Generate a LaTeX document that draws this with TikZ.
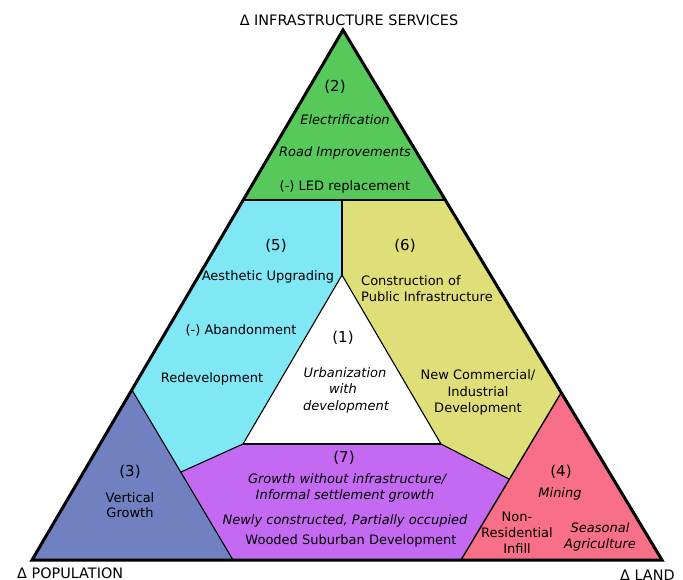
\documentclass[tikz,border=0pt]{standalone}
\usepackage{fontspec}
\setmainfont{DejaVu Sans}
\definecolor{cgreen}{HTML}{56C95A}
\definecolor{ccyan}{HTML}{80E7F5}
\definecolor{cyellow}{HTML}{DFDF7A}
\definecolor{cblue}{HTML}{7080C0}
\definecolor{cpurple}{HTML}{C46AF2}
\definecolor{cpink}{HTML}{F77088}
\begin{document}
\begin{tikzpicture}[x=1pt,y=-1pt,
  lbl/.style={font=\fontsize{13}{16}\selectfont, inner sep=0pt, anchor=base},
  itl/.style={font=\fontsize{13}{16}\selectfont\itshape, inner sep=0pt, anchor=base},
  num/.style={font=\fontsize{15}{18}\selectfont, inner sep=0pt, anchor=base},
  axis/.style={font=\fontsize{14.4}{17}\selectfont, inner sep=0pt, anchor=base},
  inner/.style={line width=1.1pt, line join=round},
  outer/.style={line width=3pt, line join=miter}]
\useasboundingbox (0,0) rectangle (683,579);
\coordinate (A) at (343,30);
\coordinate (L) at (32,560);
\coordinate (R) at (662,560);
\coordinate (GL) at (243,200);
\coordinate (GM) at (342,200);
\coordinate (GR) at (445,200);
\coordinate (W) at (342,275);
\coordinate (WL) at (243,444);
\coordinate (WR) at (441,444);
\coordinate (BT) at (132,390);
\coordinate (BB) at (233,560);
\coordinate (PL) at (181,472);
\coordinate (PR) at (509,479);
\coordinate (KT) at (561,393);
\coordinate (KB) at (461,560);
% fills
\fill[cgreen] (A)--(GL)--(GR)--cycle;
\fill[ccyan] (GL)--(GM)--(W)--(WL)--(PL)--(BT)--cycle;
\fill[cyellow] (GM)--(GR)--(KT)--(PR)--(WR)--(W)--cycle;
\fill[cblue] (BT)--(BB)--(L)--cycle;
\fill[cpurple] (BB)--(PL)--(WL)--(WR)--(PR)--(KB)--cycle;
\fill[cpink] (KT)--(R)--(KB)--cycle;
% inner borders
\draw[inner] (W)--(WL);
\draw[inner] (W)--(WR);
\draw[inner, line width=1.6pt] (WL)--(WR);
\draw[inner] (BT)--(BB);
\draw[inner] (PL)--(WL);
\draw[inner] (WR)--(PR);
\draw[inner, line width=1.4pt] (KT)--(KB);
\draw[line width=2pt] (GM)--(W);
\draw[line width=2.5pt] (GL)--(GR);
\draw[outer] (A)--(L)--(R)--cycle;
% labels
\node[axis] (top) at (349,25) {Δ INFRASTRUCTURE SERVICES};
\node[axis, anchor=base west] (pop) at (17,578) {Δ POPULATION};
\node[axis, anchor=base west] (land) at (620,580) {Δ LAND};
% region 2
\node[num] (n2) at (335,91) {(2)};
\node[itl] (e1) at (345,124) {Electrification};
\node[itl] (e2) at (345,156) {Road Improvements};
\node[lbl] (e3) at (345,190) {(-) LED replacement};
% region 5
\node[num] (n5) at (276,250) {(5)};
\node[lbl] (f1) at (268,280) {Aesthetic Upgrading};
\node[lbl] (f2) at (241,334) {(-) Abandonment};
\node[lbl] (f3) at (212,382) {Redevelopment};
% region 6
\node[num] (n6) at (405,250) {(6)};
\node[lbl, anchor=base west] (s1) at (361,285) {Construction of};
\node[lbl, anchor=base west] (s2) at (361,301) {Public Infrastructure};
\node[lbl] (s3) at (478,379) {New Commercial/};
\node[lbl] (s4) at (478,396) {Industrial};
\node[lbl] (s5) at (478,412) {Development};
% region 1
\node[num] (n1) at (343,342) {(1)};
\node[itl] (u1) at (345,377) {Urbanization};
\node[itl] (u2) at (343,393) {with};
\node[itl] (u3) at (346,410) {development};
% region 7
\node[num] (n7) at (344,462) {(7)};
\node[itl] (p1) at (347,483) {Growth without infrastructure/};
\node[itl] (p2) at (345,499) {Informal settlement growth};
\node[itl] (p3) at (345,524) {Newly constructed, Partially occupied};
\node[lbl] (p4) at (351,544) {Wooded Suburban Development};
% region 3
\node[num] (n3) at (130,476) {(3)};
\node[lbl] (v1) at (130,502) {Vertical};
\node[lbl] (v2) at (130,517) {Growth};
% region 4
\node[num] (n4) at (561,476) {(4)};
\node[itl] (m1) at (560,497) {Mining};
\node[lbl] (m2) at (517,521) {Non-};
\node[lbl] (m3) at (517,537) {Residential};
\node[lbl] (m4) at (517,553) {Infill};
\node[itl] (m5) at (600,532) {Seasonal};
\node[itl] (m6) at (600,548) {Agriculture};
\end{tikzpicture}
\end{document}
